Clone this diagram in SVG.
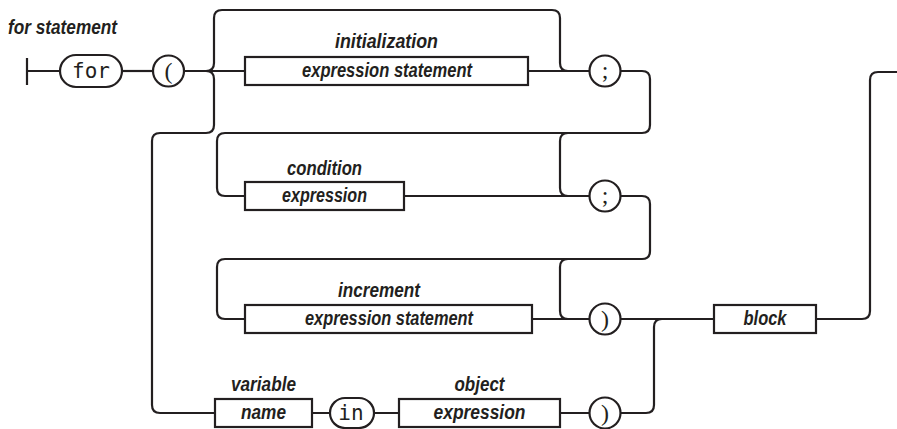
<svg xmlns="http://www.w3.org/2000/svg" width="897" height="429" viewBox="0 0 897 429">
<style>
.ln{fill:none;stroke:#231f20;stroke-width:2.2;stroke-linecap:butt;stroke-linejoin:round}
.bx{fill:#fff;stroke:#231f20;stroke-width:2.2}
.lb{font-family:"Liberation Sans Narrow","Liberation Sans",Arial,sans-serif;font-weight:bold;font-style:italic;font-size:20px;fill:#231f20;text-anchor:middle}
.mono{font-family:"DejaVu Sans Mono","Liberation Mono",monospace;font-size:21px;fill:#231f20;text-anchor:middle}
.pun{font-family:"Liberation Serif","Times New Roman",serif;font-size:24px;fill:#231f20;text-anchor:middle}
</style>
<rect width="897" height="429" fill="#fff"/>
<g id="connectors">
<path class="ln" d="M27 58 V85 M27 71 H60"/>
<path class="ln" d="M122 71 H153"/>
<path class="ln" d="M183.5 71 H245"/>
<path class="ln" d="M206 71 Q214 71 214 63 V18 Q214 10 222 10 H552 Q560 10 560 18 V63 Q560 71 568 71"/>
<path class="ln" d="M206 71 Q214 71 214 79 V125 Q214 133 206 133 H160 Q152 133 152 141 V405 Q152 413 160 413 H215"/>
<path class="ln" d="M528 71 H589.5"/>
<path class="ln" d="M620.5 71 H642 Q650 71 650 79 V125 Q650 133 642 133 H225 Q217 133 217 141 V188 Q217 196 225 196 H245"/>
<path class="ln" d="M568 133 Q560 133 560 141 V188 Q560 196 568 196"/>
<path class="ln" d="M404 196 H589.5"/>
<path class="ln" d="M620.5 196 H642 Q650 196 650 204 V251 Q650 259 642 259 H225 Q217 259 217 267 V311 Q217 319 225 319 H245"/>
<path class="ln" d="M568 259 Q560 259 560 267 V311 Q560 319 568 319"/>
<path class="ln" d="M532 319 H589.5"/>
<path class="ln" d="M620.5 319 H714"/>
<path class="ln" d="M816 319 H862 Q870 319 870 311 V80 Q870 72 878 72 H897"/>
<path class="ln" d="M312 413 H330 M374 413 H399 M560 413 H589.5"/>
<path class="ln" d="M620.5 413 H646 Q654 413 654 405 V327 Q654 319 662 319"/>
</g>
<g id="title"><text x="8" y="34" class="lb" style="text-anchor:start" textLength="109" lengthAdjust="spacingAndGlyphs">for statement</text></g>
<g id="for"><rect class="bx" x="60" y="55" width="62" height="32" rx="16"/><text class="mono" x="91" y="78">for</text></g>
<g id="lparen"><circle class="bx" cx="168.5" cy="71" r="15.5"/><text class="pun" x="168.5" y="78.5">(</text></g>
<g id="init"><text class="lb" x="386.5" y="48" textLength="103" lengthAdjust="spacingAndGlyphs">initialization</text><rect class="bx" x="245" y="57" width="283" height="28"/><text class="lb" x="387" y="77" textLength="170" lengthAdjust="spacingAndGlyphs">expression statement</text></g>
<g id="semi1"><circle class="bx" cx="605" cy="71" r="15.5"/><text class="pun" x="605" y="77.5">;</text></g>
<g id="cond"><text class="lb" x="324.5" y="175" textLength="75" lengthAdjust="spacingAndGlyphs">condition</text><rect class="bx" x="245" y="182" width="159" height="28"/><text class="lb" x="324.5" y="202" textLength="85" lengthAdjust="spacingAndGlyphs">expression</text></g>
<g id="semi2"><circle class="bx" cx="605" cy="196" r="15.5"/><text class="pun" x="605" y="202.5">;</text></g>
<g id="incr"><text class="lb" x="379" y="297" textLength="82" lengthAdjust="spacingAndGlyphs">increment</text><rect class="bx" x="245" y="305" width="287" height="28"/><text class="lb" x="389" y="325" textLength="168" lengthAdjust="spacingAndGlyphs">expression statement</text></g>
<g id="rparen1"><circle class="bx" cx="605" cy="319" r="15.5"/><text class="pun" x="605" y="326.5">)</text></g>
<g id="block"><rect class="bx" x="714" y="305" width="102" height="28"/><text class="lb" x="765" y="325" textLength="43" lengthAdjust="spacingAndGlyphs">block</text></g>
<g id="varname"><text class="lb" x="263.5" y="391" textLength="65" lengthAdjust="spacingAndGlyphs">variable</text><rect class="bx" x="215" y="399" width="97" height="28"/><text class="lb" x="263.5" y="419" textLength="45" lengthAdjust="spacingAndGlyphs">name</text></g>
<g id="in"><rect class="bx" x="330" y="398" width="44" height="30" rx="15"/><text class="mono" x="351" y="420">in</text></g>
<g id="objexpr"><text class="lb" x="479.5" y="391" textLength="50" lengthAdjust="spacingAndGlyphs">object</text><rect class="bx" x="399" y="399" width="161" height="28"/><text class="lb" x="479.5" y="419" textLength="92" lengthAdjust="spacingAndGlyphs">expression</text></g>
<g id="rparen2"><circle class="bx" cx="605" cy="413" r="15.5"/><text class="pun" x="605" y="420.5">)</text></g>
</svg>
